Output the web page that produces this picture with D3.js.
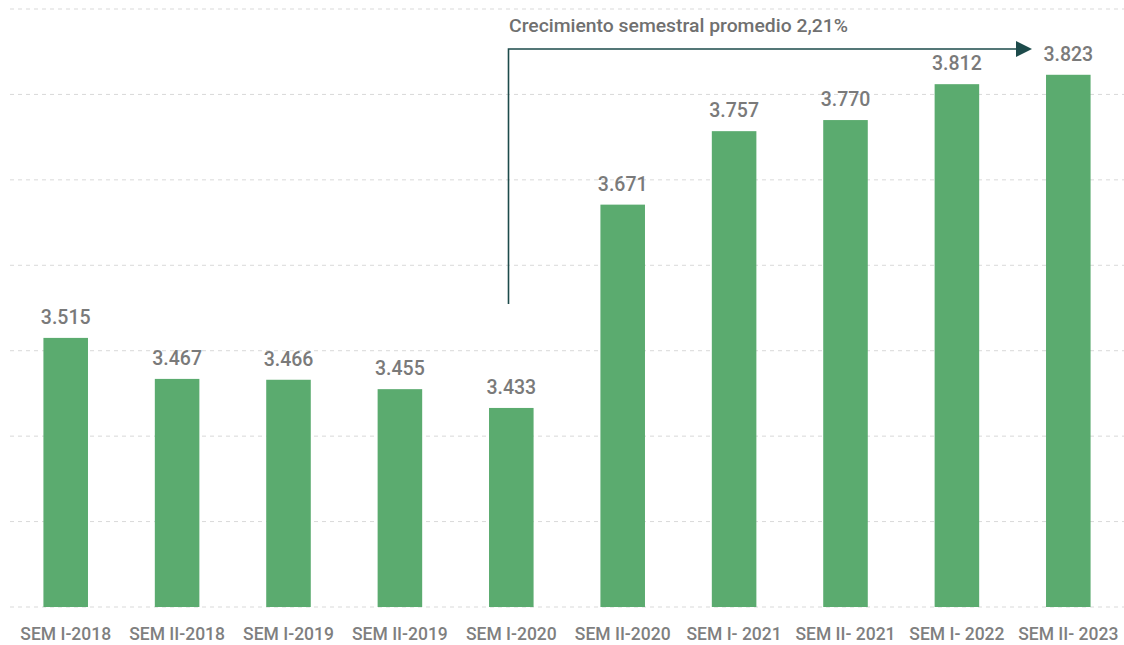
<!DOCTYPE html>
<html>
<head>
<meta charset="utf-8">
<script src="https://cdn.jsdelivr.net/npm/d3@7"></script>
<style>
  body { margin: 0; background: #fff; }
  svg { display: block; font-family: Roboto, "Noto Sans", sans-serif; }
</style>
</head>
<body>
<svg></svg>
<script>
const categories = ["SEM I-2018", "SEM II-2018", "SEM I-2019", "SEM II-2019", "SEM I-2020",
  "SEM II-2020", "SEM I- 2021", "SEM II- 2021", "SEM I- 2022", "SEM II- 2023"];
const values = [3.515, 3.467, 3.466, 3.455, 3.433, 3.671, 3.757, 3.770, 3.812, 3.823];
const gridTicks = [3.2, 3.3, 3.4, 3.5, 3.6, 3.7, 3.8, 3.9];
const note = "Crecimiento semestral promedio 2,21%";

let svg = d3.select("svg").attr("width", 1124).attr("height", 645);

const x = d3.scaleBand().domain(categories).range([10, 1124]).paddingInner(0.6).paddingOuter(0.3);
const y = d3.scaleLinear().domain([3.2, 3.9]).range([607, 9]);

// lineas guia punteadas
svg.append("g").selectAll("line").data(gridTicks).join("line")
  .attr("x1", 10).attr("x2", 1124)
  .attr("y1", d => y(d)).attr("y2", d => y(d))
  .style("stroke", "#d9d9d9").style("stroke-width", 1).style("stroke-dasharray", "4,4");

svg.append("g").selectAll("rect").data(values).join("rect")
  .attr("x", (d, i) => x(categories[i]))
  .attr("width", x.bandwidth())
  .attr("y", d => y(d))
  .attr("height", d => y(3.2) - y(d))
  .style("fill", "#5bab6f");

let fmt = d => d.toFixed(3);
svg.append("g").selectAll("text").data(values).join("text")
  .attr("x", (d, i) => x(categories[i]) + x.bandwidth() / 2)
  .attr("y", d => y(d) - 14)
  .attr("text-anchor", "middle")
  .style("font-size", "19.5px").style("font-weight", 500).style("fill", "#7a7a7a")
  .text(fmt);

let xAxis = svg.append("g").attr("transform", "translate(0,640)")
  .call(d3.axisBottom(x).tickSize(0).tickPadding(0));
xAxis.select(".domain").remove();
xAxis.selectAll("text").style("font-size", "17.5px").style("font-weight", 500).style("fill", "#7f7f7f")
  .style("font-family", "Roboto, sans-serif").attr("dy", 0);

// flecha de crecimiento
const ax = 508.5, ay = 49;
svg.append("defs").append("marker")
  .attr("id", "head").attr("viewBox", "0 0 10 10").attr("refX", 0).attr("refY", 5)
  .attr("markerWidth", 16).attr("markerHeight", 17).attr("markerUnits", "userSpaceOnUse")
  .attr("orient", "auto")
  .append("path").attr("d", "M0,0 L10,5 L0,10 Z").style("fill", "#1d4b4b");

svg.append("path")
  .attr("d", `M${ax},304 L${ax},${ay} L1016,${ay}`)
  .style("fill", "none").style("stroke", "#1d4b4b").style("stroke-width", 1.6)
  .attr("marker-end", "url(#head)");

svg.append("text").attr("x", 509).attr("y", 32)
  .attr("textLength", 339).attr("lengthAdjust", "spacingAndGlyphs")
  .style("font-size", "18px").style("font-weight", 500).style("fill", "#707070")
  .text(note);
</script>
</body>
</html>
